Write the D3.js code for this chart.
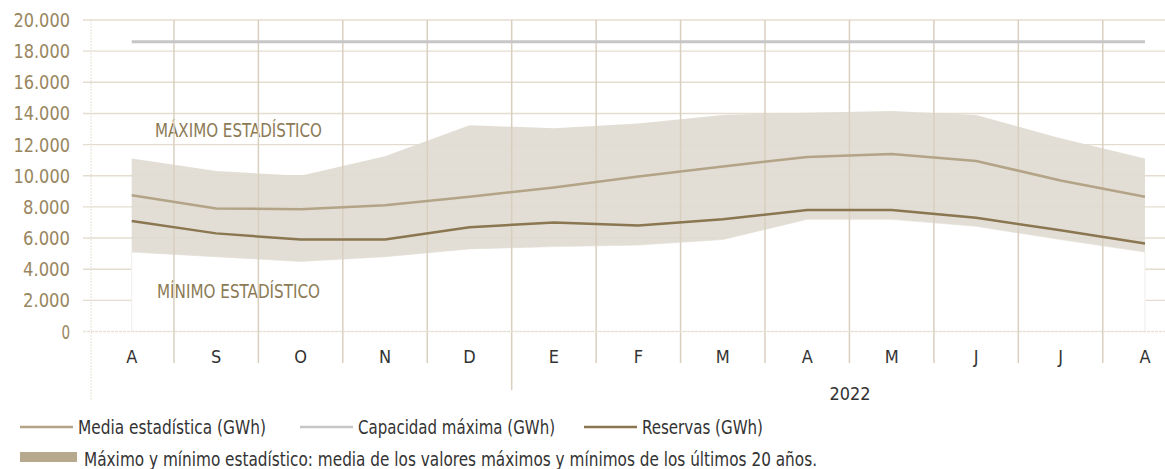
<!DOCTYPE html>
<html>
<head>
<meta charset="utf-8">
<script src="https://cdn.jsdelivr.net/npm/d3@7"></script>
<style>
  html, body { margin: 0; padding: 0; background: #fff; }
  svg { display: block; }
  text { font-family: "Liberation Sans Narrow", "DejaVu Sans Condensed", "Roboto Condensed", sans-serif; font-stretch: condensed; }
</style>
</head>
<body>
<svg id="chart" width="1165" height="469"></svg>
<script>
// Months from August 2021 to August 2022
const months = ["A", "S", "O", "N", "D", "E", "F", "M", "A", "M", "J", "J", "A"];
const yearLabel = "2022";

// Reservoir series (GWh)
const maxEstadistico = [11100, 10300, 10000, 11250, 13250, 13050, 13350, 13900, 14050, 14150, 13900, 12400, 11100];
const minEstadistico = [5100, 4800, 4500, 4800, 5300, 5450, 5550, 5900, 7200, 7200, 6750, 5900, 5100];
const mediaEstadistica = [8750, 7900, 7850, 8100, 8650, 9250, 9950, 10600, 11200, 11400, 10950, 9700, 8650];
const reservas = [7100, 6300, 5900, 5900, 6700, 7000, 6800, 7200, 7800, 7800, 7300, 6500, 5650];
const capacidadMaxima = [18600, 18600, 18600, 18600, 18600, 18600, 18600, 18600, 18600, 18600, 18600, 18600, 18600];

const yTicks = [0, 2000, 4000, 6000, 8000, 10000, 12000, 14000, 16000, 18000, 20000];

const legendLines = [
  { label: "Media estadística (GWh)", color: "#b3a387", x: 20, len: 188 },
  { label: "Capacidad  máxima (GWh)", color: "#c6c6c6", x: 300, len: 197 },
  { label: "Reservas (GWh)", color: "#8a7650", x: 584, len: 121 }
];
const legendBand = "Máximo y mínimo estadístico: media de los valores máximos y mínimos de los últimos 20 años.";

const svg = d3.select("#chart");
const idx = d3.range(months.length);

const x = d3.scaleBand().domain(idx).range([89.5, 1187.2]).padding(0);
const cx = i => x(i) + x.bandwidth() / 2;
const y = d3.scaleLinear().domain([0, 20000]).range([331.5, 20]);

const fmt = v => d3.format(",")(v).replace(/,/g, ".");

// horizontal grid
svg.append("g").selectAll("line").data(yTicks.filter(d => d > 0)).join("line")
  .attr("x1", 83).attr("x2", 1165)
  .attr("y1", d => y(d)).attr("y2", d => y(d))
  .attr("stroke", "#e4ddcf").attr("stroke-width", 1.4);

// white area below the statistical minimum
svg.append("path").datum(idx)
  .attr("d", d3.area().x(cx).y0(y(0)).y1(i => y(minEstadistico[i])))
  .attr("fill", "#fff").attr("stroke", "#efede9").attr("stroke-width", 1);

// statistical band
svg.append("path").datum(idx)
  .attr("d", d3.area().x(cx).y0(i => y(minEstadistico[i])).y1(i => y(maxEstadistico[i])))
  .attr("fill", "#e0dbd1").attr("fill-opacity", 0.92);

// area labels
svg.append("text").attr("x", 155).attr("y", 137)
  .attr("font-size", 19.5).attr("fill", "#8b7a55")
  .attr("textLength", 167).attr("lengthAdjust", "spacingAndGlyphs")
  .text("MÁXIMO ESTADÍSTICO");
svg.append("text").attr("x", 157).attr("y", 298)
  .attr("font-size", 19.5).attr("fill", "#8b7a55")
  .attr("textLength", 163).attr("lengthAdjust", "spacingAndGlyphs")
  .text("MÍNIMO ESTADÍSTICO");

// vertical grid (month boundaries); the one before January runs down to the year row
svg.append("g").selectAll("line").data(idx.slice(1)).join("line")
  .attr("x1", i => x(i)).attr("x2", i => x(i))
  .attr("y1", 20).attr("y2", i => i === 5 ? 390 : 363)
  .attr("stroke", "#d9cfbf").attr("stroke-width", 1.5);

// left axis line
svg.append("line").attr("x1", 91).attr("x2", 91).attr("y1", 20).attr("y2", 400)
  .attr("stroke", "#e6e0d4").attr("stroke-width", 1).attr("stroke-dasharray", "2,1");

// zero baseline
svg.append("line").attr("x1", 83).attr("x2", 1165).attr("y1", y(0)).attr("y2", y(0))
  .attr("stroke", "#e8e2d6").attr("stroke-width", 1.5).attr("stroke-dasharray", "3,1");

// lines
const line = arr => d3.line().x(cx).y(i => y(arr[i]));
svg.append("path").datum(idx).attr("d", line(capacidadMaxima))
  .attr("fill", "none").attr("stroke", "#c6c6c6").attr("stroke-width", 3);
svg.append("path").datum(idx).attr("d", line(mediaEstadistica))
  .attr("fill", "none").attr("stroke", "#b3a387").attr("stroke-width", 2.5);
svg.append("path").datum(idx).attr("d", line(reservas))
  .attr("fill", "none").attr("stroke", "#8a7650").attr("stroke-width", 2.5);

// y tick labels
svg.append("g").selectAll("text").data(yTicks).join("text")
  .attr("x", 70).attr("y", d => y(d) + 7)
  .attr("text-anchor", "end").attr("font-size", 19).attr("fill", "#998660")
  .attr("textLength", d => fmt(d).length * 9.6 - 1).attr("lengthAdjust", "spacingAndGlyphs")
  .text(fmt);

// x tick labels
svg.append("g").selectAll("text").data(idx).join("text")
  .attr("x", cx).attr("y", 363)
  .attr("text-anchor", "middle").attr("font-size", 18).attr("fill", "#333")
  .text(i => months[i]);

svg.append("text").attr("x", 850).attr("y", 400)
  .attr("text-anchor", "middle").attr("font-size", 18).attr("fill", "#333")
  .attr("textLength", 41).attr("lengthAdjust", "spacingAndGlyphs")
  .text(yearLabel);

// legend
const lg = svg.append("g");
legendLines.forEach(d => {
  lg.append("line").attr("x1", d.x).attr("x2", d.x + 53).attr("y1", 427).attr("y2", 427)
    .attr("stroke", d.color).attr("stroke-width", 2.5);
  lg.append("text").attr("x", d.x + 58).attr("y", 434)
    .attr("font-size", 19).attr("fill", "#333")
    .attr("textLength", d.len).attr("lengthAdjust", "spacingAndGlyphs")
    .text(d.label);
});
lg.append("rect").attr("x", 20).attr("y", 452).attr("width", 57).attr("height", 10)
  .attr("fill", "#b7a98e");
lg.append("text").attr("x", 84).attr("y", 466)
  .attr("font-size", 19).attr("fill", "#333")
  .attr("textLength", 733).attr("lengthAdjust", "spacingAndGlyphs")
  .text(legendBand);
</script>
</body>
</html>
